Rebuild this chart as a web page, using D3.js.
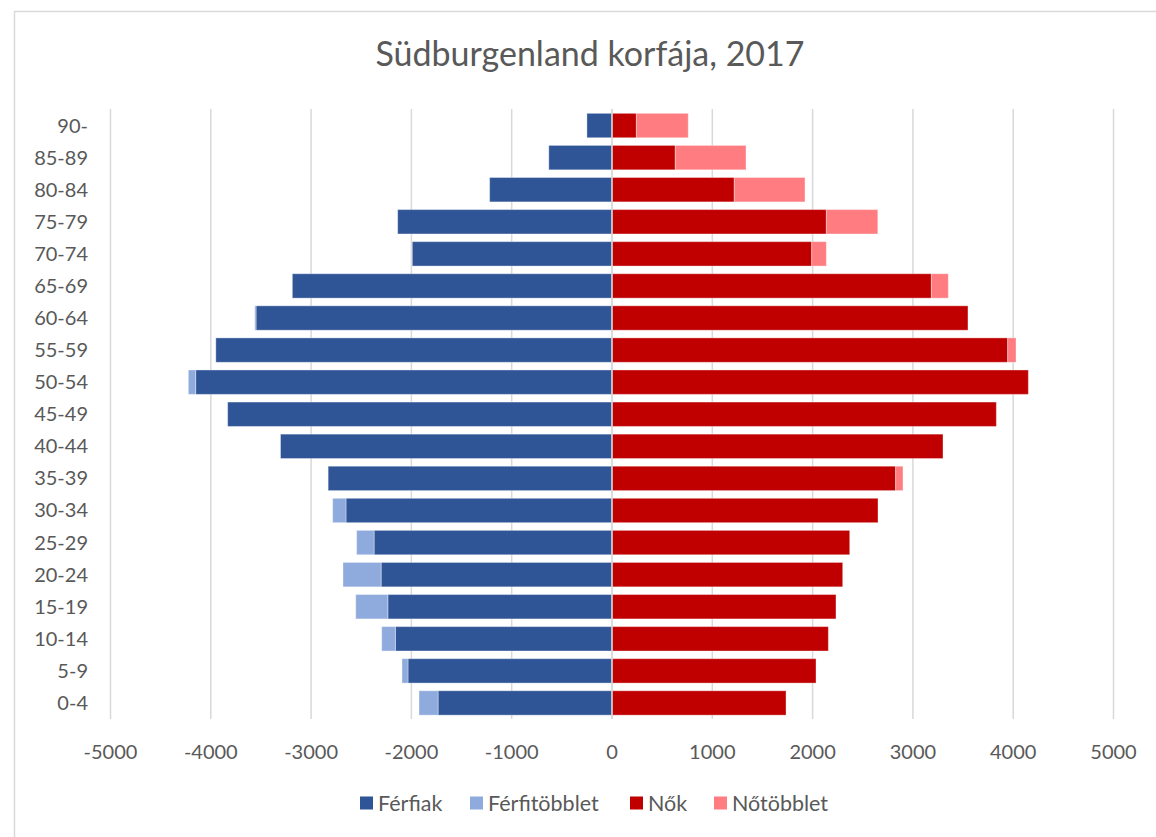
<!DOCTYPE html>
<html>
<head>
<meta charset="utf-8">
<script src="https://cdn.jsdelivr.net/npm/d3@7"></script>
<style>
  body { margin: 0; background: #fff; }
  text { font-family: Lato, "Open Sans", sans-serif; fill: #595959; }
</style>
</head>
<body>
<svg id="chart" width="1156" height="837"></svg>
<script>
// age groups, oldest first (top of the pyramid)
var ageGroups = ['90-', '85-89', '80-84', '75-79', '70-74', '65-69', '60-64', '55-59', '50-54',
	'45-49', '40-44', '35-39', '30-34', '25-29', '20-24', '15-19', '10-14', '5-9', '0-4'];

var ferfiak      = [-250, -630, -1220, -2137, -1991, -3187, -3549, -3950, -4151, -3832, -3305, -2830, -2652, -2372, -2302, -2235, -2160, -2034, -1734];
var ferfitobblet = [0, 0, 0, 0, 0, 0, -13, 0, -73, 0, 0, 0, -133, -174, -380, -320, -136, -60, -190];
var nok          = [243, 631, 1219, 2137, 1991, 3184, 3549, 3945, 4151, 3832, 3300, 2828, 2652, 2370, 2300, 2233, 2157, 2034, 1735];
var notobblet    = [517, 705, 705, 513, 146, 169, 0, 83, 0, 0, 0, 73, 0, 0, 0, 0, 0, 0, 0];

var xTicks = [-5000, -4000, -3000, -2000, -1000, 0, 1000, 2000, 3000, 4000, 5000];

var seriesNames  = ['Férfiak', 'Férfitöbblet', 'Nők', 'Nőtöbblet'];
var seriesColors = ['#2F5597', '#8FAADC', '#C00000', '#FF7C80'];

var svg = d3.select('#chart');

// chart border
svg.append('rect')
	.attr('x', 14.5).attr('y', 11.5)
	.attr('width', 1200).attr('height', 900)
	.attr('fill', 'none')
	.attr('stroke', '#d9d9d9')
	.attr('stroke-width', 1.5);

svg.append('text')
	.attr('x', 590).attr('y', 66)
	.attr('text-anchor', 'middle')
	.style('font-size', '34px')
	.text('Südburgenland korfája, 2017');

var x = d3.scaleLinear().domain([-5000, 5000]).range([110.5, 1113.5]);
var y = d3.scaleBand().domain(ageGroups).range([109.5, 719]).paddingInner(0.24).paddingOuter(0.12);

// vertical gridlines
svg.append('g')
	.selectAll('line')
	.data(xTicks)
	.join('line')
		.attr('x1', d => x(d)).attr('x2', d => x(d))
		.attr('y1', 109).attr('y2', 719)
		.attr('stroke', '#d9d9d9')
		.attr('stroke-width', 1.5);

// build stacked segments: [start, end, series index]
var segs = [];
ageGroups.forEach(function(g, i) {
	segs.push({ g: g, a: 0, b: ferfiak[i], s: 0 });
	segs.push({ g: g, a: ferfiak[i], b: ferfiak[i] + ferfitobblet[i], s: 1 });
	segs.push({ g: g, a: 0, b: nok[i], s: 2 });
	segs.push({ g: g, a: nok[i], b: nok[i] + notobblet[i], s: 3 });
});

svg.append('g')
	.selectAll('rect')
	.data(segs.filter(d => d.a !== d.b))
	.join('rect')
		.attr('x', d => x(Math.min(d.a, d.b)))
		.attr('width', d => Math.abs(x(d.b) - x(d.a)))
		.attr('y', d => y(d.g))
		.attr('height', y.bandwidth())
		.attr('fill', d => seriesColors[d.s])
		.attr('stroke', '#fff')
		.attr('stroke-opacity', 0.35)
		.attr('stroke-width', 1);

// category axis line at zero
svg.append('line')
	.attr('x1', x(0)).attr('x2', x(0))
	.attr('y1', 109).attr('y2', 719)
	.attr('stroke', '#d9d9d9')
	.attr('stroke-width', 1.5);

// y labels
svg.append('g')
	.selectAll('text')
	.data(ageGroups)
	.join('text')
		.attr('x', 88)
		.attr('y', d => y(d) + y.bandwidth() / 2)
		.attr('dy', '0.35em')
		.attr('text-anchor', 'end')
		.style('font-size', '20px')
		.text(d => d);

// x labels
svg.append('g')
	.selectAll('text')
	.data(xTicks)
	.join('text')
		.attr('x', d => x(d))
		.attr('y', 752)
		.attr('dy', '0.35em')
		.attr('text-anchor', 'middle')
		.style('font-size', '20px')
		.text(d => d);

// legend
var legendX = [360, 470, 630, 714];
var legend = svg.append('g')
	.selectAll('g')
	.data(seriesNames)
	.join('g')
		.attr('transform', (d, i) => `translate(${legendX[i]}, 803)`);

legend.append('rect')
	.attr('x', 0).attr('y', -6.5)
	.attr('width', 13).attr('height', 13)
	.attr('fill', (d, i) => seriesColors[i]);

legend.append('text')
	.attr('x', 18)
	.attr('dy', '0.35em')
	.style('font-size', '21.5px')
	.text(d => d);
</script>
</body>
</html>
